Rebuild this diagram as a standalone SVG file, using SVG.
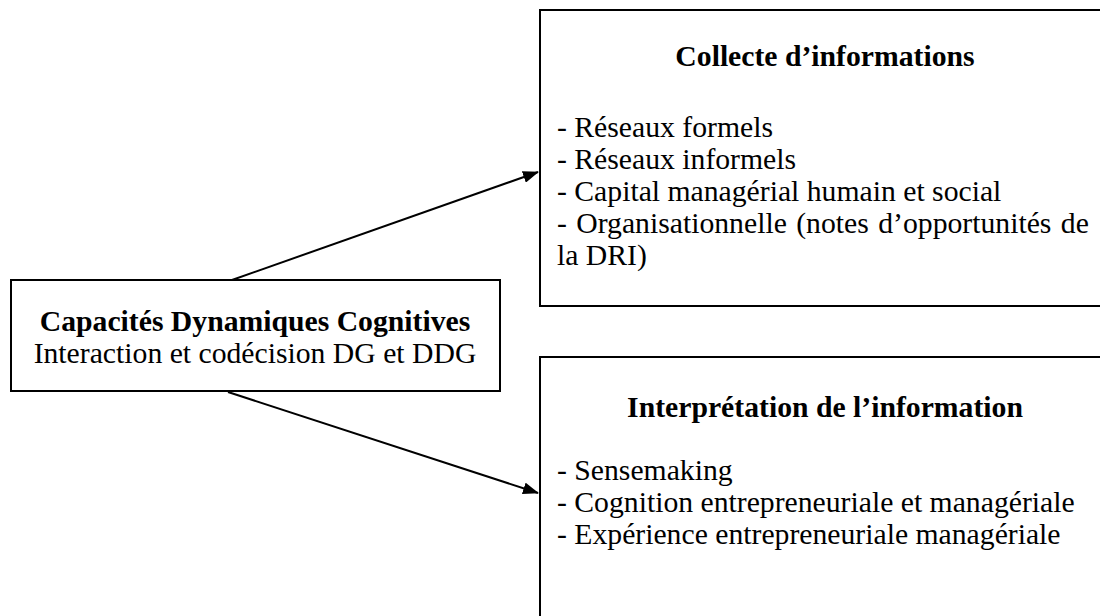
<svg xmlns="http://www.w3.org/2000/svg" width="1100" height="616" viewBox="0 0 1100 616">
<style>
.box{fill:#fff;stroke:#000;stroke-width:2}
.c{stroke:#000;stroke-width:2;fill:none}
</style>
<defs>
<marker id="ah" markerWidth="16" markerHeight="12" refX="15" refY="6" orient="auto" markerUnits="userSpaceOnUse" viewBox="0 0 16 12">
<path d="M0,0 L16,6 L0,12 Z" fill="#000"/>
</marker>
</defs>
<rect width="1100" height="616" fill="#fff"/>
<g id="connectors">
<line class="c" x1="232" y1="280" x2="538" y2="172" marker-end="url(#ah)"/>
<line class="c" x1="228" y1="392" x2="538" y2="493" marker-end="url(#ah)"/>
</g>
<g font-family="Liberation Serif" font-size="29.7" fill="#000">
<g id="node-capacites">
<rect class="box" x="11" y="280" width="489" height="111"/>
<text x="255" y="331" text-anchor="middle" font-weight="bold">Capacités Dynamiques Cognitives</text>
<text x="255" y="363" text-anchor="middle">Interaction et codécision DG et DDG</text>
</g>
<g id="node-collecte">
<rect class="box" x="540" y="10" width="570" height="296"/>
<text x="825" y="66" text-anchor="middle" font-weight="bold">Collecte d’informations</text>
<text x="557" y="137">- Réseaux formels</text>
<text x="557" y="169">- Réseaux informels</text>
<text x="557" y="201">- Capital managérial humain et social</text>
<text x="557" y="233" word-spacing="2">- Organisationnelle (notes d’opportunités de</text>
<text x="557" y="265">la DRI)</text>
</g>
<g id="node-interpretation">
<rect class="box" x="540" y="357" width="570" height="280"/>
<text x="825" y="417" text-anchor="middle" font-weight="bold">Interprétation de l’information</text>
<text x="557" y="480">- Sensemaking</text>
<text x="557" y="512">- Cognition entrepreneuriale et managériale</text>
<text x="557" y="544">- Expérience entrepreneuriale managériale</text>
</g>
</g>
</svg>
